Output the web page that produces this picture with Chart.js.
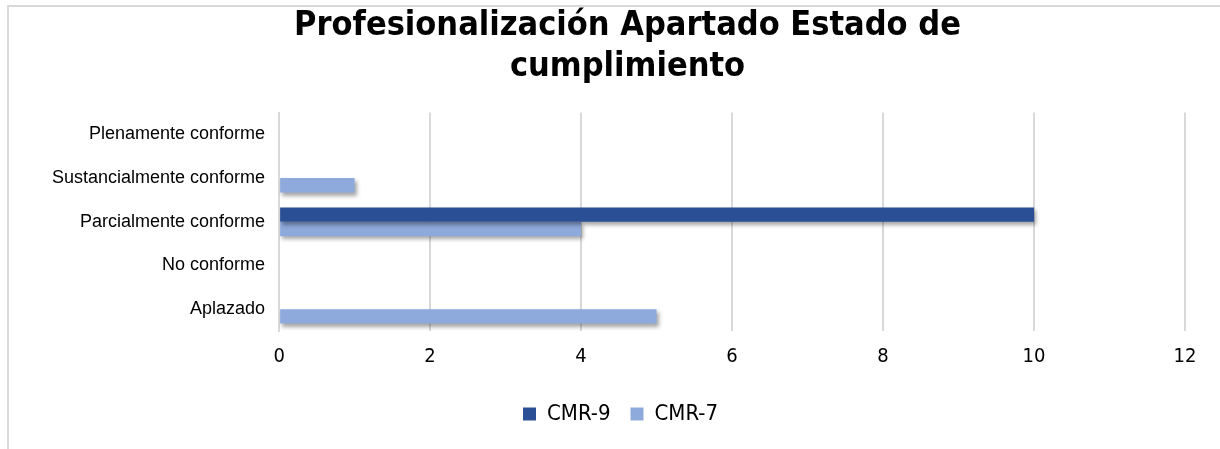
<!DOCTYPE html>
<html>
<head>
<meta charset="utf-8">
<script src="https://cdn.jsdelivr.net/npm/chart.js@4/dist/chart.umd.min.js"></script>
<style>
  html, body { margin: 0; padding: 0; background: #fff; }
  #wrap { position: absolute; left: 0; top: 0; width: 1220px; height: 449px; }
  #frame { position: absolute; left: 7px; top: 5px; right: 0; bottom: 0;
           border-top: 2px solid #d9d9d9; border-left: 2px solid #d9d9d9; pointer-events: none; }
</style>
</head>
<body>
<div id="wrap">
  <canvas id="myChart" width="1220" height="449"></canvas>
  <div id="frame"></div>
</div>
<script>
const categories = ["Plenamente conforme", "Sustancialmente conforme", "Parcialmente conforme", "No conforme", "Aplazado"];
const cmr9 = [0, 0, 10, 0, 0];
const cmr7 = [0, 1, 4, 0, 5];
const xTicks = [0, 2, 4, 6, 8, 10, 12];
const titleLines = ["Profesionalización Apartado Estado de", "cumplimiento"];

const narrow = "'Liberation Sans Narrow', 'DejaVu Sans Condensed', 'Liberation Sans', sans-serif";

// soft drop shadow under the bars, like the office chart
const barShadow = {
    id: 'barShadow',
    afterLayout: (chart) => {
        // title and legend sit a bit right of the padded centre in the original
        chart.titleBlock.left += 16
        chart.titleBlock.right += 16
        chart.legend.left += 9
        chart.legend.right += 9
    },
    beforeDatasetsDraw: (chart) => {
        const ctx = chart.ctx;
        ctx.save();
        ctx.shadowColor = 'rgba(0,0,0,0.35)';
        ctx.shadowBlur = 4;
        ctx.shadowOffsetX = 2;
        ctx.shadowOffsetY = 3;
    },
    afterDatasetsDraw: (chart) => {
        chart.ctx.restore();
    }
};

var ctx = document.getElementById('myChart').getContext('2d');
var chart = new Chart(ctx, {
    type: 'bar',
    data: {
        labels: categories,
        datasets: [
            {
                label: 'CMR-9',
                backgroundColor: '#2b4f95',
                data: cmr9
            },
            {
                label: 'CMR-7',
                backgroundColor: '#8eaadc',
                data: cmr7
            }
        ]
    },
    options: {
        indexAxis: 'y',
        responsive: false,
        animation: false,
        layout: { padding: { left: 38, right: 35, top: 0, bottom: 14 } },
        datasets: {
            bar: { categoryPercentage: 0.66, barPercentage: 1.0 }
        },
        scales: {
            x: {
                min: 0,
                max: 12,
                afterBuildTicks: (axis) => { axis.ticks = xTicks.map(v => ({ value: v })) },
                grid: { color: '#d9d9d9', lineWidth: 2, drawTicks: false },
                border: { display: false },
                ticks: { color: '#000', padding: 14, font: { family: narrow, size: 20 } }
            },
            y: {
                grid: { display: false, drawTicks: false },
                border: { color: '#d9d9d9', width: 2 },
                ticks: { color: '#000', padding: 14, font: { family: "'Liberation Sans', Arial, sans-serif", size: 18 } }
            }
        },
        plugins: {
            title: {
                display: true,
                text: titleLines,
                color: '#000',
                font: { family: narrow, size: 34, weight: 'bold', lineHeight: 1.2 },
                padding: { top: 6, bottom: 25 }
            },
            legend: {
                position: 'bottom',
                labels: {
                    color: '#000',
                    boxWidth: 13,
                    boxHeight: 13,
                    padding: 20,
                    font: { family: narrow, size: 22 }
                }
            },
            tooltip: { enabled: false }
        }
    },
    plugins: [barShadow]
});
</script>
</body>
</html>
